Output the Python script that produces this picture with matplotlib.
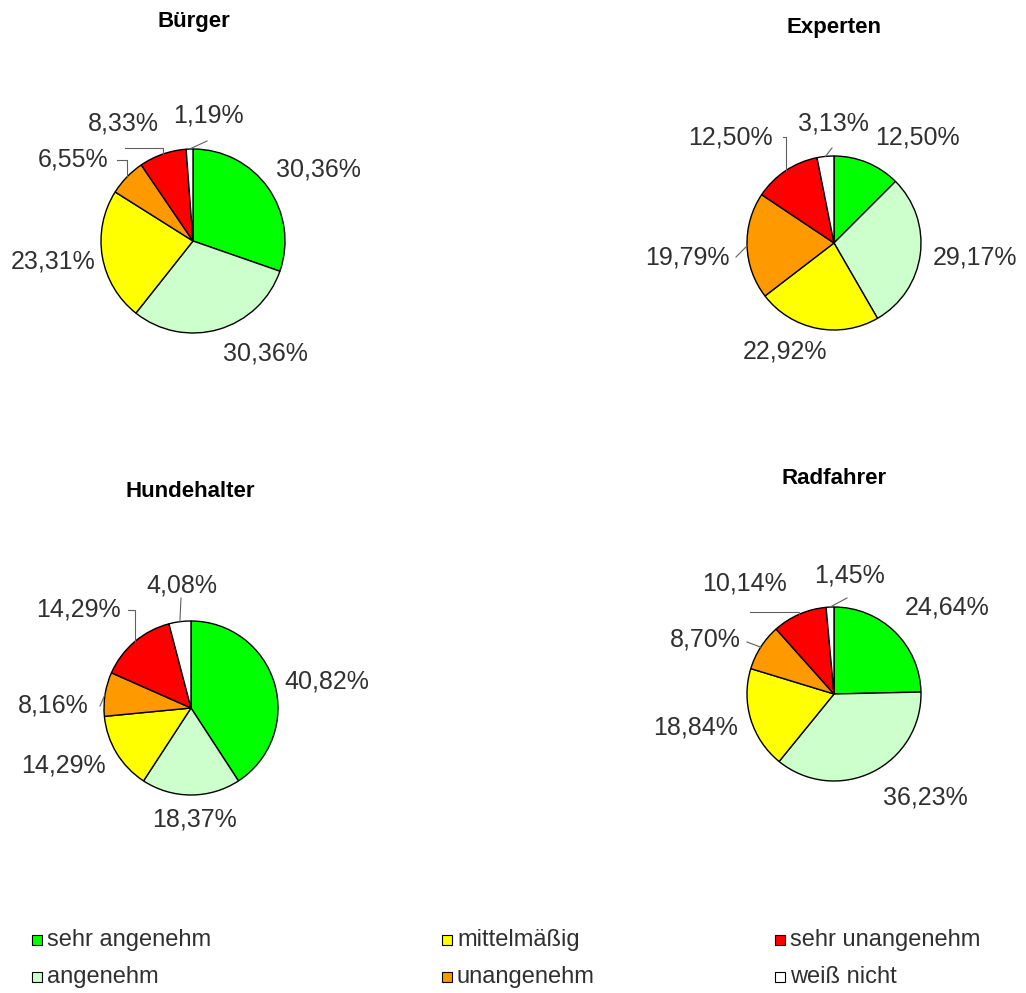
import matplotlib.pyplot as plt
import numpy as np
from matplotlib.patches import Rectangle

plt.rcParams['font.family'] = ['Liberation Sans', 'DejaVu Sans']

# answer categories and colours, clockwise from 12 o'clock
categories = ["sehr angenehm", "angenehm", "mittelmäßig", "unangenehm", "sehr unangenehm", "weiß nicht"]
colors = ["#00FF00", "#CCFFCC", "#FFFF00", "#FF9900", "#FF0000", "#FFFFFF"]

# shares in percent per group
buerger = [30.36, 30.36, 23.31, 6.55, 8.33, 1.19]
experten = [12.50, 29.17, 22.92, 19.79, 12.50, 3.13]
hundehalter = [40.82, 18.37, 14.29, 8.16, 14.29, 4.08]
radfahrer = [24.64, 36.23, 18.84, 8.70, 10.14, 1.45]

W, H = 1026, 993
fig = plt.figure(figsize=(W / 100, H / 100), dpi=100)

# pie layout in pixels: title, centre, radius, title pos,
# label centres and leader lines (None / straight 's' / elbow 'e')
panels = [
    dict(name="Bürger", vals=buerger, c=(193, 241), r=92, t=(194, 22),
         lab=[(318, 170), (265, 353), (53, 262), (73, 160), (123, 123), (208, 115)],
         lead=[None, None, None, ('e', 117, 160), ('e', 125, 148), ('s', 207, 141)]),
    dict(name="Experten", vals=experten, c=(834, 243), r=87, t=(834, 28),
         lab=[(917, 137), (975, 258), (785, 352), (687, 257), (730, 137), (833, 123)],
         lead=[None, None, None, ('s', 736, 257), ('e', 783, 137), ('s', 832, 148)]),
    dict(name="Hundehalter", vals=hundehalter, c=(191, 708), r=87, t=(190, 491),
         lab=[(327, 682), (194, 820), (63, 765), (53, 705), (78, 610), (182, 585)],
         lead=[None, None, None, ('s', 100, 706), ('e', 128, 610), ('s', 181, 598)]),
    dict(name="Radfahrer", vals=radfahrer, c=(834, 694), r=87, t=(834, 478),
         lab=[(947, 608), (925, 797), (696, 727), (705, 640), (745, 583), (849, 575)],
         lead=[None, None, None, ('s', 747, 642), ('e', 750, 612), ('s', 847, 598)]),
]

k = 1.08
for p in panels:
    cx, cy = p["c"]
    r = p["r"]
    ax = fig.add_axes([(cx - k * r) / W, (H - cy - k * r) / H, 2 * k * r / W, 2 * k * r / H])
    wedges, _ = ax.pie(p["vals"], colors=colors, startangle=90, counterclock=False,
                       radius=1, wedgeprops=dict(edgecolor="black", linewidth=1.0))
    ax.set_xlim(-k, k)
    ax.set_ylim(-k, k)
    ax.axis("off")

    for w, v, (lx, ly), ld in zip(wedges, p["vals"], p["lab"], p["lead"]):
        txt = f"{v:.2f}".replace(".", ",") + "%"
        ax.text((lx - cx) / r, (cy - ly) / r, txt, ha="center", va="center",
                fontsize=18, color="#303030")
        if ld is None:
            continue
        # leader line ends on the rim at the middle of the wedge
        mid = np.deg2rad((w.theta1 + w.theta2) / 2)
        ex, ey = np.cos(mid), np.sin(mid)
        sx, sy = (ld[1] - cx) / r, (cy - ld[2]) / r
        if ld[0] == 'e':
            xs, ys = [sx, ex, ex], [sy, sy, ey]
        else:
            xs, ys = [sx, ex], [sy, ey]
        ax.plot(xs, ys, color="#606060", lw=0.8, clip_on=False)

    fig.text(p["t"][0] / W, 1 - p["t"][1] / H, p["name"], ha="center", va="center",
             fontsize=16, fontweight="bold")

# legend in three columns of two entries
leg_x = [32, 442, 775]
leg_y = [940, 977]
for i, (cat, col) in enumerate(zip(categories, colors)):
    x = leg_x[i // 2]
    y = leg_y[i % 2]
    fig.patches.append(Rectangle((x / W, 1 - (y + 5) / H), 10 / W, 10 / H,
                                 transform=fig.transFigure, facecolor=col,
                                 edgecolor="black", linewidth=0.8))
    fig.text((x + 15) / W, 1 - y / H, cat, ha="left", va="center", fontsize=17, color="#303030")

fig.savefig("out.png", dpi=100, facecolor="white")
